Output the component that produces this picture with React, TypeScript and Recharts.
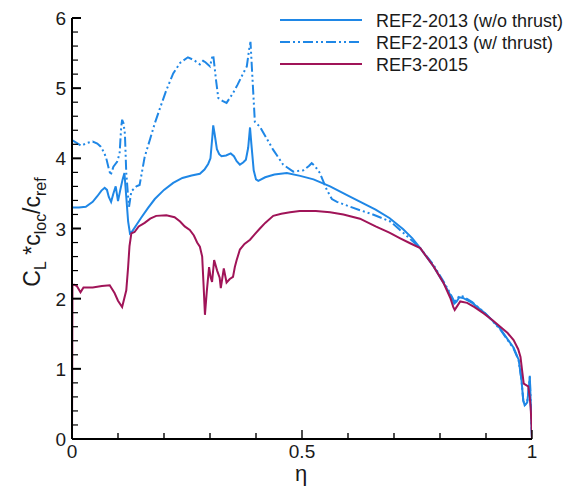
import React from 'react';
import { LineChart, Line, XAxis, YAxis } from 'recharts';

// ---- data: REF2-2013 (w/o thrust) ----
const ETA_NOTHRUST = [
  0, 0.015, 0.03, 0.045, 0.055, 0.064, 0.071, 0.076, 0.08, 0.085, 0.09, 0.095, 0.1, 0.105, 0.11, 0.114,
  0.118, 0.122, 0.126, 0.132, 0.14, 0.15, 0.165, 0.18, 0.2, 0.22, 0.24, 0.26, 0.278, 0.288, 0.296, 0.301,
  0.305, 0.307, 0.31, 0.315, 0.32, 0.325, 0.335, 0.345, 0.352, 0.358, 0.365, 0.372, 0.378, 0.383, 0.387,
  0.39, 0.395, 0.4, 0.405, 0.42, 0.44, 0.467, 0.496, 0.525, 0.561, 0.6, 0.63, 0.66, 0.69, 0.72, 0.74, 0.757,
  0.786, 0.81, 0.825, 0.831, 0.836, 0.842, 0.85, 0.87, 0.9, 0.93, 0.946, 0.96, 0.971, 0.977, 0.981, 0.984,
  0.9895, 0.9935, 0.9952, 0.997, 1.0,
];
const CL_NOTHRUST = [
  3.3, 3.3, 3.31, 3.38, 3.46, 3.54, 3.58, 3.55, 3.45, 3.38, 3.5, 3.6, 3.39, 3.55, 3.7, 3.79,
  3.45, 3.1, 2.93, 2.97, 3.05, 3.15, 3.29, 3.42, 3.55, 3.65, 3.72, 3.755, 3.78, 3.84, 3.92, 4.0,
  4.3, 4.47, 4.35, 4.13, 4.06, 4.03, 4.04, 4.07, 4.03, 3.96, 3.91, 3.94, 3.98, 4.15, 4.44,
  4.2, 3.83, 3.7, 3.68, 3.73, 3.77, 3.79, 3.75, 3.7, 3.6, 3.47, 3.37, 3.27, 3.15, 2.99, 2.86, 2.72,
  2.46, 2.2, 2.02, 1.93, 1.96, 2.02, 2.01, 1.94, 1.78, 1.58, 1.43, 1.3, 1.13, 0.85, 0.55, 0.48,
  0.52, 0.75, 0.9, 0.55, 0.0,
];

// ---- data: REF2-2013 (w/ thrust) ----
const ETA_THRUST = [
  0, 0.01, 0.02, 0.033, 0.045, 0.055, 0.062, 0.07, 0.0745, 0.08, 0.084, 0.09, 0.098, 0.1035, 0.107, 0.109,
  0.112, 0.115, 0.118, 0.122, 0.124, 0.129, 0.14, 0.147, 0.158, 0.17, 0.18, 0.19, 0.205, 0.22, 0.235, 0.252,
  0.265, 0.278, 0.285, 0.29, 0.3, 0.305, 0.307, 0.31, 0.313, 0.318, 0.327, 0.336, 0.35, 0.36, 0.372, 0.38,
  0.385, 0.388, 0.3925, 0.3975, 0.4085, 0.42, 0.4375, 0.459, 0.481, 0.503, 0.515, 0.521, 0.528, 0.539,
  0.554, 0.565, 0.576, 0.6045, 0.626, 0.65, 0.692, 0.72, 0.757, 0.786, 0.81, 0.825, 0.831, 0.836, 0.842,
  0.85, 0.87, 0.9, 0.93, 0.946, 0.96, 0.971, 0.977, 0.981, 0.984, 0.9895, 0.9935, 0.9952, 0.997, 1.0,
];
const CL_THRUST = [
  4.26, 4.22, 4.18, 4.22, 4.24, 4.21, 4.17, 4.08, 4.0, 3.85, 3.76, 3.88, 3.95, 4.07, 4.45, 4.55,
  4.5, 4.35, 3.79, 3.45, 3.31, 3.53, 3.6, 3.62, 4.02, 4.28, 4.5, 4.69, 4.97, 5.21, 5.36, 5.44,
  5.4, 5.34, 5.39, 5.37, 5.31, 5.45, 5.47, 5.3, 5.12, 4.86, 4.82, 4.79, 4.93, 5.05, 5.21, 5.31,
  5.55, 5.66, 5.12, 4.52, 4.45, 4.32, 4.12, 3.91, 3.81, 3.83, 3.89, 3.93, 3.89, 3.79,
  3.55, 3.42, 3.38, 3.31, 3.26, 3.21, 3.1, 2.94, 2.72, 2.48, 2.22, 2.04, 1.96, 1.98, 2.04,
  2.03, 1.95, 1.78, 1.57, 1.42, 1.29, 1.12, 0.85, 0.55, 0.48, 0.52, 0.75, 0.88, 0.55, 0.0,
];

// ---- data: REF3-2015 ----
const ETA_REF3 = [
  0, 0.001, 0.005, 0.0105, 0.0185, 0.025, 0.045, 0.065, 0.082, 0.0925, 0.1, 0.109, 0.118, 0.122, 0.125,
  0.129, 0.136, 0.145, 0.158, 0.17, 0.183, 0.205, 0.223, 0.235, 0.245, 0.256, 0.265, 0.272, 0.278, 0.283,
  0.286, 0.289, 0.293, 0.298, 0.3015, 0.3045, 0.309, 0.3155, 0.321, 0.3235, 0.33, 0.336, 0.343, 0.35, 0.354,
  0.358, 0.365, 0.375, 0.387, 0.3975, 0.4085, 0.42, 0.4375, 0.455, 0.474, 0.495, 0.51, 0.53, 0.561, 0.59,
  0.626, 0.66, 0.69, 0.7135, 0.735, 0.757, 0.786, 0.808, 0.8225, 0.829, 0.832, 0.837, 0.844, 0.859, 0.875,
  0.895, 0.915, 0.931, 0.947, 0.96, 0.97, 0.975, 0.979, 0.982, 0.9917, 0.995, 0.997, 0.999, 1.0,
];
const CL_REF3 = [
  0, 2.2, 2.2, 2.18, 2.09, 2.16, 2.16, 2.18, 2.19, 2.08, 1.97, 1.88, 2.12, 2.45, 2.75,
  2.93, 2.95, 3.03, 3.08, 3.14, 3.18, 3.19, 3.16, 3.1, 3.03, 2.98, 2.9, 2.8, 2.74, 2.6,
  2.2, 1.77, 2.1, 2.45, 2.3, 2.24, 2.55, 2.4, 2.3, 2.15, 2.43, 2.23, 2.28, 2.31, 2.45,
  2.55, 2.7, 2.78, 2.84, 2.92, 3.0, 3.08, 3.18, 3.21, 3.23, 3.25, 3.25, 3.25, 3.23, 3.2,
  3.14, 3.03, 2.94, 2.86, 2.79, 2.72, 2.46, 2.22, 2.01, 1.88, 1.84, 1.89, 1.96, 1.94, 1.88,
  1.79, 1.69, 1.6, 1.51, 1.41, 1.28, 1.17, 0.95, 0.79, 0.75, 0.6, 0.46, 0.2, 0.0,
];

// ---- axes ----
const X_TICKS = [0, 0.1, 0.2, 0.3, 0.4, 0.5, 0.6, 0.7, 0.8, 0.9, 1];
const X_MAJOR = [0, 0.5, 1];
const X_LABELS = ['0', '0.5', '1'];
const Y_TICKS = [
  0, 0.2, 0.4, 0.6, 0.8, 1, 1.2, 1.4, 1.6, 1.8, 2, 2.2, 2.4, 2.6, 2.8, 3, 3.2, 3.4, 3.6, 3.8, 4,
  4.2, 4.4, 4.6, 4.8, 5, 5.2, 5.4, 5.6, 5.8, 6,
];
const Y_MAJOR = [0, 1, 2, 3, 4, 5, 6];
const Y_LABELS = ['0', '1', '2', '3', '4', '5', '6'];

const SERIES_NAMES = ['REF2-2013 (w/o thrust)', 'REF2-2013 (w/ thrust)', 'REF3-2015'];

const BLUE = '#1f87e6';
const RED = '#a01458';
const DASH = '10 3 2 3 2 3';
const FONT = '"Liberation Sans", Arial, Helvetica, sans-serif';
const TXT = '#1a1a1a';

const rows = (xs: number[], ys: number[]) => xs.map((x, i) => ({ x, y: ys[i] }));
const dataNoThrust = rows(ETA_NOTHRUST, CL_NOTHRUST);
const dataThrust = rows(ETA_THRUST, CL_THRUST);
const dataRef3 = rows(ETA_REF3, CL_REF3);

const XTick = (props: any) => {
  const { x, y, payload } = props;
  const idx = X_MAJOR.indexOf(payload.value);
  const major = idx >= 0;
  return (
    <g>
      <line x1={x} x2={x} y1={y} y2={y - (major ? 9 : 6)} stroke="#000" strokeWidth={1.4} />
      {major && (
        <text x={x} y={y + 19} textAnchor="middle" fontSize={19} fontFamily={FONT} fill={TXT}>
          {X_LABELS[idx]}
        </text>
      )}
    </g>
  );
};

const YTick = (props: any) => {
  const { x, y, payload } = props;
  const idx = Y_MAJOR.indexOf(payload.value);
  const major = idx >= 0;
  return (
    <g>
      <line x1={x} x2={x + (major ? 9 : 6)} y1={y} y2={y} stroke="#000" strokeWidth={major ? 2 : 1.2} />
      {major && (
        <text x={x - 6} y={y + 7} textAnchor="end" fontSize={19} fontFamily={FONT} fill={TXT}>
          {Y_LABELS[idx]}
        </text>
      )}
    </g>
  );
};

export default function App() {
  const legendRows = [
    { name: SERIES_NAMES[0], color: BLUE, dash: undefined as string | undefined, y: 20 },
    { name: SERIES_NAMES[1], color: BLUE, dash: DASH, y: 42 },
    { name: SERIES_NAMES[2], color: RED, dash: undefined, y: 64 },
  ];
  return (
    <div style={{ position: 'absolute', left: 0, top: 0, width: 565, height: 490, background: '#fff' }}>
      <LineChart width={565} height={490} margin={{ top: 18, right: 33, bottom: 21, left: 12 }}>
        <XAxis
          dataKey="x"
          type="number"
          domain={[0, 1]}
          ticks={X_TICKS}
          interval={0}
          height={30}
          tickSize={0}
          tickMargin={0}
          tickLine={false}
          axisLine={{ stroke: '#000', strokeWidth: 2 }}
          tick={<XTick />}
          allowDataOverflow
        />
        <YAxis
          dataKey="y"
          type="number"
          domain={[0, 6]}
          ticks={Y_TICKS}
          interval={0}
          width={60}
          tickSize={0}
          tickMargin={0}
          tickLine={false}
          axisLine={{ stroke: '#000', strokeWidth: 2 }}
          tick={<YTick />}
          allowDataOverflow
        />
        <Line
          data={dataNoThrust}
          dataKey="y"
          type="linear"
          stroke={BLUE}
          strokeWidth={2}
          dot={false}
          isAnimationActive={false}
          name={SERIES_NAMES[0]}
        />
        <Line
          data={dataThrust}
          dataKey="y"
          type="linear"
          stroke={BLUE}
          strokeWidth={2}
          strokeDasharray={DASH}
          dot={false}
          isAnimationActive={false}
          name={SERIES_NAMES[1]}
        />
        <Line
          data={dataRef3}
          dataKey="y"
          type="linear"
          stroke={RED}
          strokeWidth={2}
          dot={false}
          isAnimationActive={false}
          name={SERIES_NAMES[2]}
        />
      </LineChart>
      <svg
        width={565}
        height={490}
        style={{ position: 'absolute', left: 0, top: 0, pointerEvents: 'none' }}
      >
        {legendRows.map((r) => (
          <g key={r.name}>
            <line x1={280} x2={362} y1={r.y} y2={r.y} stroke={r.color} strokeWidth={2} strokeDasharray={r.dash} />
            <text x={376} y={r.y + 6.5} fontSize={18} fontFamily={FONT} fill={TXT}>
              {r.name}
            </text>
          </g>
        ))}
        <text x={301} y={481} textAnchor="middle" fontSize={22} fontFamily={FONT} fill={TXT}>
          η
        </text>
        <text
          transform="translate(40,232) rotate(-90)"
          textAnchor="middle"
          fontSize={23}
          fontFamily={FONT}
          fill={TXT}
        >
          <tspan>C</tspan>
          <tspan fontSize={16} dy={6}>L</tspan>
          <tspan dy={-6}> *c</tspan>
          <tspan fontSize={16} dy={6}>loc</tspan>
          <tspan dy={-6}>/c</tspan>
          <tspan fontSize={16} dy={6}>ref</tspan>
        </text>
      </svg>
    </div>
  );
}
